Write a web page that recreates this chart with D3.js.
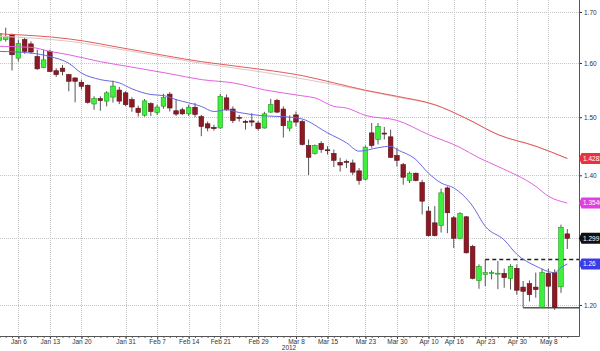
<!DOCTYPE html>
<html lang="en">
<head>
  <meta charset="UTF-8">
  <script src="https://d3js.org/d3.v7.min.js"></script>
  <title>Candles 2012</title>
  <style>
    body { margin: 0; background: #fff; }
    svg { display: block; font-family: "Liberation Sans", Arial, sans-serif; }
  </style>
</head>
<body>
  <svg id="chart" width="600" height="351"></svg>
  <script>
    // trading days (MM-DD, 2012)
    const dates = [
      "01-03","01-04","01-05","01-06","01-09","01-10","01-11","01-12","01-13","01-16",
      "01-17","01-18","01-19","01-20","01-23","01-24","01-25","01-26","01-27","01-30",
      "01-31","02-01","02-02","02-03","02-06","02-07","02-08","02-09","02-10","02-13",
      "02-14","02-15","02-16","02-17","02-20","02-21","02-22","02-23","02-24","02-27",
      "02-28","02-29","03-01","03-02","03-05","03-06","03-07","03-08","03-09","03-12",
      "03-13","03-14","03-15","03-16","03-19","03-20","03-21","03-22","03-23","03-26",
      "03-27","03-28","03-29","03-30","04-02","04-03","04-04","04-05","04-10","04-11",
      "04-12","04-13","04-16","04-17","04-18","04-19","04-20","04-23","04-24","04-25",
      "04-26","04-27","04-30","05-01","05-02","05-03","05-04","05-08","05-09","05-10",
      "05-11"
    ];

    const open = [
      1.6431,1.6451,1.6549,1.6092,1.6451,1.6367,1.6123,1.5913,1.6222,1.5853,
      1.5902,1.5779,1.5718,1.5637,1.5582,1.5239,1.5337,1.5291,1.5364,1.5493,
      1.5442,1.5318,1.5162,1.5037,1.5245,1.5085,1.5199,1.5418,1.5116,1.5134,
      1.5061,1.5180,1.5011,1.4884,1.4821,1.4810,1.5350,1.5147,1.5000,1.4928,
      1.4936,1.4897,1.4810,1.5092,1.5306,1.5147,1.4807,1.5042,1.4924,1.4505,
      1.4367,1.4540,1.4431,1.4367,1.4217,1.4234,1.4207,1.4074,1.3936,1.4724,
      1.4609,1.4721,1.4655,1.4333,1.4178,1.3913,1.4035,1.3881,1.3416,1.3230,
      1.3186,1.3791,1.3310,1.2990,1.3326,1.2865,1.2356,1.2441,1.2455,1.2450,
      1.2460,1.2381,1.2534,1.2257,1.2307,1.2257,1.1967,1.2460,1.2470,1.2262,
      1.3058
    ];
    const high = [
      1.6647,1.6686,1.6569,1.6451,1.6484,1.6418,1.6255,1.6255,1.6255,1.5902,
      1.5963,1.5797,1.5729,1.5687,1.5595,1.5379,1.5379,1.5471,1.5668,1.5552,
      1.5471,1.5361,1.5208,1.5328,1.5269,1.5226,1.5425,1.5457,1.5331,1.5171,
      1.5226,1.5258,1.5042,1.4924,1.4867,1.5423,1.5411,1.5195,1.5042,1.4953,
      1.5073,1.4936,1.5097,1.5331,1.5331,1.5195,1.5033,1.5103,1.4953,1.4609,
      1.4522,1.4579,1.4493,1.4436,1.4293,1.4264,1.4264,1.4121,1.4505,1.4897,
      1.4897,1.4828,1.4781,1.4466,1.4207,1.4062,1.4045,1.3925,1.3496,1.3496,
      1.3780,1.3817,1.3336,1.3400,1.3336,1.2890,1.2593,1.2668,1.2504,1.2642,
      1.2530,1.2593,1.2593,1.2346,1.2356,1.2470,1.2530,1.2530,1.2519,1.3202,
      1.3133
    ];
    const low = [
      1.6372,1.6412,1.5858,1.6025,1.6176,1.6176,1.5871,1.5902,1.5829,1.5737,
      1.5766,1.5471,1.5269,1.5503,1.5245,1.5134,1.5116,1.5195,1.5263,1.5236,
      1.5199,1.5097,1.5011,1.5011,1.5024,1.5042,1.5153,1.5103,1.5024,1.5042,
      1.5024,1.5000,1.4666,1.4752,1.4764,1.4798,1.5116,1.4897,1.4924,1.4781,
      1.4838,1.4764,1.4798,1.5079,1.5073,1.4643,1.4752,1.4838,1.4505,1.4005,
      1.4350,1.4379,1.4350,1.4138,1.4062,1.4121,1.4005,1.3844,1.3917,1.4466,
      1.4522,1.4609,1.4290,1.4148,1.3844,1.3872,1.3900,1.3363,1.3018,1.3018,
      1.3079,1.3069,1.2841,1.2979,1.2757,1.2371,1.2233,1.2271,1.2371,1.2228,
      1.2248,1.2222,1.2148,1.1961,1.2049,1.2104,1.1953,1.1976,1.1929,1.2173,
      1.2826
    ];
    const close = [
      1.6569,1.6516,1.6157,1.6372,1.6222,1.6210,1.5889,1.6059,1.5840,1.5779,
      1.5840,1.5656,1.5656,1.5563,1.5269,1.5337,1.5300,1.5442,1.5567,1.5291,
      1.5226,1.5184,1.5085,1.5295,1.5103,1.5184,1.5355,1.5166,1.5057,1.5061,
      1.5180,1.5051,1.4838,1.4810,1.4798,1.5379,1.5134,1.4941,1.4983,1.4910,
      1.4914,1.4798,1.5061,1.5226,1.5092,1.4850,1.4931,1.4914,1.4522,1.4303,
      1.4505,1.4436,1.4414,1.4252,1.4172,1.4217,1.4052,1.3913,1.4476,1.4505,
      1.4838,1.4703,1.4303,1.4252,1.3968,1.4035,1.3913,1.3576,1.3031,1.3031,
      1.3711,1.3390,1.2990,1.3379,1.2767,1.2386,1.2559,1.2470,1.2470,1.2462,
      1.2396,1.2559,1.2212,1.2197,1.2148,1.2222,1.2470,1.2271,1.1967,1.3159,
      1.2990
    ];

    // moving averages, [day index, value]
    const ma20 = [
      [0,1.6222],[5,1.6190],[8,1.6123],[11,1.5994],[13,1.5810],[16,1.5687],[19,1.5626],
      [21,1.5516],[24,1.5411],[26,1.5392],[28,1.5318],[32,1.5195],[34,1.5103],[36,1.5134],
      [38,1.5085],[42,1.5024],[45,1.5011],[48,1.4968],[52,1.4724],[55,1.4552],[57,1.4407],
      [60,1.4466],[62,1.4493],[63,1.4436],[66,1.4264],[68,1.4035],[70,1.3872],[72,1.3791],
      [75,1.3496],[77,1.3175],[80,1.2964],[82,1.2745],[85,1.2568],[88,1.2470],[89,1.2545],
      [90,1.2600]
    ];
    const ma50 = [
      [0,1.6320],[5,1.6300],[8,1.6222],[11,1.6157],[16,1.6025],[21,1.5921],[27,1.5797],
      [32,1.5687],[37,1.5626],[42,1.5497],[48,1.5387],[50,1.5350],[53,1.5195],[55,1.5166],
      [58,1.5033],[63,1.4945],[68,1.4695],[73,1.4471],[76,1.4293],[79,1.4148],[85,1.3817],
      [87,1.3657],[90,1.3546]
    ];
    const ma100 = [
      [0,1.6563],[11,1.6465],[21,1.6255],[32,1.6025],[42,1.5871],[48,1.5761],[53,1.5626],
      [58,1.5490],[63,1.5379],[69,1.5226],[74,1.4979],[79,1.4695],[85,1.4493],[90,1.4283]
    ];
    const ma200 = [
      [0,1.6516],[11,1.6418],[21,1.6222],[32,1.5994],[42,1.5822],[53,1.5595],[63,1.5365],
      [69,1.5220],[74,1.4977],[79,1.4693],[85,1.4491],[90,1.4282]
    ];

    const tickDates = ["01-06","01-13","01-20","01-31","02-07","02-14","02-21","02-29","03-08",
                       "03-15","03-23","03-30","04-10","04-16","04-23","04-30","05-08"];
    const months = ["Jan","Feb","Mar","Apr","May"];
    const yTicks = [1.2, 1.3, 1.4, 1.5, 1.6, 1.7];

    // support / resistance levels: start day, value
    const levels = [["04-23", 1.2668], ["05-01", 1.1961]];

    const tagValues = [1.4283, 1.3546, 1.299, 1.26];
    const tagLabels = ["1.4283", "1.3546", "1.299", "1.26"];
    const tagColors = ["#e8333a", "#e040e0", "#111111", "#3c3ce6"];

    const svg = d3.select("#chart");
    const right = 579, bottom = 336;

    const x = d3.scalePoint().domain(dates).range([-0.6, 567.3]);
    const y = d3.scaleLog().domain([1.1565, 1.7244]).range([bottom, 0]);

    // grid
    const grid = svg.append("g")
      .attr("stroke", "#c6c6c6").attr("stroke-dasharray", "1,1").attr("stroke-width", 1);
    grid.selectAll(".gx").data(tickDates).enter().append("line")
      .attr("x1", d => Math.round(x(d)) + 0.5).attr("x2", d => Math.round(x(d)) + 0.5)
      .attr("y1", 0).attr("y2", bottom);
    grid.selectAll(".gy").data(yTicks).enter().append("line")
      .attr("x1", 0).attr("x2", right)
      .attr("y1", d => Math.round(y(d)) + 0.5).attr("y2", d => Math.round(y(d)) + 0.5);

    // level lines
    svg.selectAll(".lvl").data(levels).enter().append("line")
      .attr("x1", d => x(d[0])).attr("x2", right)
      .attr("y1", d => y(d[1])).attr("y2", d => y(d[1]))
      .attr("stroke", (d, i) => i === 0 ? "#222" : "#555")
      .attr("stroke-width", 1.5)
      .attr("stroke-dasharray", (d, i) => i === 0 ? "4,3" : null);

    // candles
    const idx = d3.range(dates.length);
    const bw = 4.6;
    svg.append("g").selectAll("line").data(idx).enter().append("line")
      .attr("x1", i => x(dates[i])).attr("x2", i => x(dates[i]))
      .attr("y1", i => y(high[i])).attr("y2", i => y(low[i]))
      .attr("stroke", "#555").attr("stroke-width", 1);
    svg.append("g").selectAll("rect").data(idx).enter().append("rect")
      .attr("x", i => x(dates[i]) - bw / 2)
      .attr("width", bw)
      .attr("y", i => y(Math.max(open[i], close[i])))
      .attr("height", i => Math.max(1, Math.abs(y(open[i]) - y(close[i]))))
      .attr("fill", i => close[i] >= open[i] ? "#3cf03c" : "#8c1a24")
      .attr("stroke", i => close[i] >= open[i] ? "#1f9a1f" : "#5c0e16")
      .attr("stroke-width", 0.6);

    // moving averages
    const line = d3.line()
      .x(d => x(dates[d[0]])).y(d => y(d[1]))
      .curve(d3.curveMonotoneX);
    [[ma200, "#e2c4c4"], [ma100, "#e25a5a"], [ma50, "#e262e2"], [ma20, "#6868e0"]]
      .forEach(([s, c]) => {
        svg.append("path").datum(s).attr("d", line)
          .attr("fill", "none").attr("stroke", c).attr("stroke-width", 1);
      });

    // axes
    const minorAxis = d3.axisBottom(x).tickValues(dates).tickSize(2).tickFormat("");
    svg.append("g").attr("transform", `translate(0,${bottom})`).call(minorAxis)
      .call(g => g.select(".domain").remove())
      .selectAll("line").attr("stroke", "#666");

    const xAxis = d3.axisBottom(x).tickValues(tickDates).tickSize(3).tickPadding(0)
      .tickFormat(d => months[+d.slice(0, 2) - 1] + " " + (+d.slice(3)));
    const gx = svg.append("g").attr("transform", `translate(0,${bottom})`).call(xAxis);
    gx.select(".domain").remove();
    gx.selectAll("text").attr("font-size", "6.5px").attr("fill", "#333")
      .attr("font-family", "'Liberation Sans', Arial, sans-serif");
    gx.selectAll("line").attr("stroke", "#444");

    svg.append("text").attr("x", 289).attr("y", 350)
      .attr("text-anchor", "middle").attr("font-size", "6.5px").attr("fill", "#333")
      .text("2012");

    // the 1.30 label sits under the last-close tag, so it is left blank
    const yAxis = d3.axisRight(y).tickValues(yTicks).tickSize(3).tickPadding(2)
      .tickFormat(d => d === 1.3 ? "" : d3.format(".2f")(d));
    const gy = svg.append("g").attr("transform", `translate(${right},0)`).call(yAxis);
    gy.select(".domain").remove();
    gy.selectAll("text").attr("font-size", "6.5px").attr("fill", "#333")
      .attr("font-family", "'Liberation Sans', Arial, sans-serif");
    gy.selectAll("line").attr("stroke", "#333");

    svg.append("line").attr("x1", right + 0.5).attr("x2", right + 0.5)
      .attr("y1", 0).attr("y2", bottom + 0.5).attr("stroke", "#555");
    svg.append("line").attr("x1", 0).attr("x2", right + 0.5)
      .attr("y1", bottom + 0.5).attr("y2", bottom + 0.5).attr("stroke", "#555");

    // last value tags
    const tags = svg.append("g").selectAll("g").data(tagValues).enter().append("g")
      .attr("transform", d => `translate(${right},${y(d)})`);
    tags.append("path")
      .attr("d", "M0,0 L2.5,-5.5 L30,-5.5 L30,5.5 L2.5,5.5 Z")
      .attr("fill", (d, i) => tagColors[i]);
    tags.append("text").attr("x", 4).attr("y", 2.4)
      .attr("font-size", "6.5px").attr("fill", "#fff")
      .text((d, i) => tagLabels[i]);
  </script>
</body>
</html>
